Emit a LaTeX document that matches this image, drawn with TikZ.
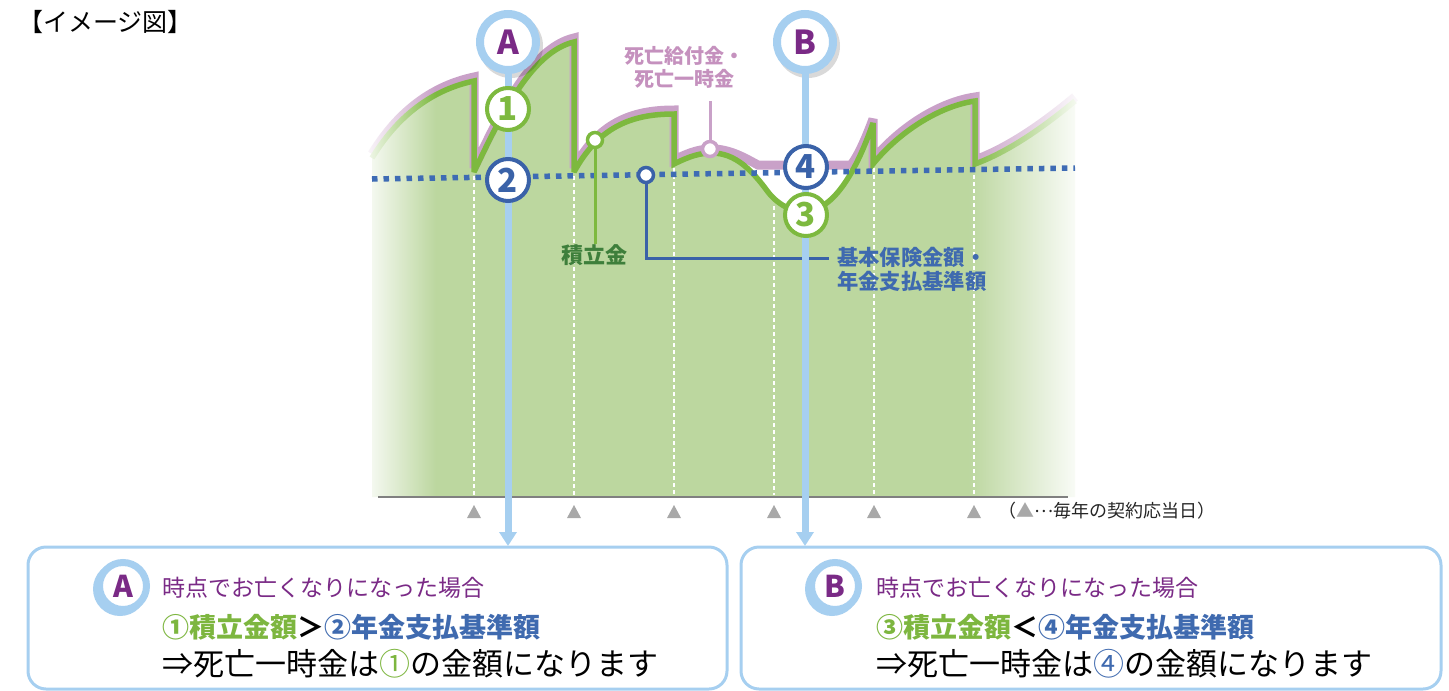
\documentclass[tikz,border=0pt]{standalone}
\usepackage{fontspec}
\setmainfont{Noto Sans CJK JP}
\usetikzlibrary{arrows.meta,fadings}
\definecolor{chartgreen}{HTML}{BCD79F}
\definecolor{linegreen}{HTML}{7DB93F}
\definecolor{pinkline}{HTML}{C9A1C8}
\definecolor{pinktext}{HTML}{C591BE}
\definecolor{dotblue}{HTML}{3E6BB4}
\definecolor{ringblue}{HTML}{3A62A8}
\definecolor{bluetext}{HTML}{3F6AAF}
\definecolor{lightblue}{HTML}{A6CFF0}
\definecolor{purpleA}{HTML}{7A2A86}
\definecolor{darkgreen}{HTML}{3E7F3B}
\definecolor{boxgreen}{HTML}{7DB63F}
\definecolor{trigray}{HTML}{A8A8A8}
\definecolor{axisgray}{HTML}{808080}
\tikzfading[name=fadeR, left color=transparent!0, right color=transparent!100]
\tikzfading[name=fadeL, left color=transparent!100, right color=transparent!0]
\def\greenpath{(372,158) .. controls (400,112) and (436,89) .. (474,81) -- (474,172) .. controls (498,122) and (530,52) .. (574,42) -- (574,172) .. controls (598,128) and (630,114) .. (674,114) -- (674,164) .. controls (690,156) and (700,153) .. (712,153) .. controls (735,153) and (752,170) .. (768,192) .. controls (780,207) and (795,213) .. (810,211) .. controls (835,206) and (856,172) .. (873,123) -- (873,164) .. controls (900,131) and (940,106) .. (975,101) -- (975,164) .. controls (1010,151) and (1045,126) .. (1075,101)}
\def\pinkpath{(372,158) .. controls (400,112) and (436,89) .. (474,81) -- (474,172) .. controls (498,122) and (530,52) .. (574,42) -- (574,172) .. controls (598,128) and (630,114) .. (674,114) -- (674,164) .. controls (690,156) and (700,153) .. (712,153) .. controls (730,153) and (745,162) .. (758,169) -- (851,169) .. controls (858,160) and (866,142) .. (873,123) -- (873,164) .. controls (900,131) and (940,106) .. (975,101) -- (975,164) .. controls (1010,151) and (1045,126) .. (1075,101)}
\tikzset{
  bigcirc/.style={circle, draw=lightblue, line width=8pt, fill=white, minimum size=56pt, inner sep=0pt, text=purpleA, font=\bfseries\fontsize{33}{33}\selectfont},
  boxcirc/.style={circle, draw=lightblue, line width=7pt, fill=white, minimum size=47pt, inner sep=0pt, text=purpleA, font=\bfseries\fontsize{30}{30}\selectfont},
  numG/.style={circle, draw=linegreen, line width=4pt, fill=white, minimum size=42pt, inner sep=0pt, text=linegreen, font=\bfseries\fontsize{33}{33}\selectfont},
  numB/.style={circle, draw=ringblue, line width=4pt, fill=white, minimum size=42pt, inner sep=0pt, text=ringblue, font=\bfseries\fontsize{33}{33}\selectfont},
  dotmark/.style={circle, line width=3.5pt, fill=white, minimum size=15pt, inner sep=0pt},
  bline/.style={lightblue, line width=7pt, -{Triangle[width=17pt,length=14pt]}},
  annot/.style={line width=3pt},
  txt/.style={inner sep=0pt, anchor=west},
  infobox/.style={draw=lightblue, line width=3pt, rounded corners=18pt, fill=white, inner sep=0pt},
}
\begin{document}
\begin{tikzpicture}[x=1pt,y=-1pt]
\useasboundingbox (0,0) rectangle (1449,691);
% title
\node[txt, font=\fontsize{25}{29}\selectfont] (title) at (18,22) {【イメージ図】};
% chart fill
\fill[chartgreen] \greenpath -- (1075,497) -- (372,497) -- cycle;
% yearly dashed lines
\foreach \xx/\yy in {474/176, 574/176, 674/168, 774/206, 874/168, 974/168}
  \draw[white, line width=1.2pt, dash pattern=on 4pt off 3pt] (\xx,\yy) -- (\xx,495);
% curves
\draw[pinkline, line width=9pt, line join=miter, miter limit=3, yshift=4pt] \pinkpath;
\draw[linegreen, line width=5.5pt, line join=miter, miter limit=3] \greenpath;
% fades
\fill[white, path fading=fadeR, fit fading=true] (360,20) rectangle (436,499);
\fill[white, path fading=fadeL, fit fading=true] (968,20) rectangle (1085,499);
% axis & triangles
\draw[axisgray, line width=1.3pt] (378,497) -- (1068,497);
\foreach \xx in {474,574,674,774,874,974}
  \fill[trigray] (\xx-7,518) -- (\xx+7,518) -- (\xx,505) -- cycle;
\node[txt, font=\fontsize{18}{22}\selectfont, text=black!85] (legend) at (998,511) {（\textcolor{trigray}{▲}\raisebox{0.3em}{…}毎年の契約応当日）};
% dotted base line
\draw[dotblue, line width=5.5pt, dash pattern=on 5.5pt off 6pt] (372,179) -- (1075,168);
% annotation markers
\node[txt, anchor=center, font=\bfseries\fontsize{22}{26}\selectfont, text=darkgreen] (lTsumi) at (594,255) {積立金};
\node[dotmark, draw=linegreen] (gdot) at (595,140) {};
\draw[annot, linegreen] (gdot) -- (gdot |- lTsumi.north);
\node[inner sep=0pt, align=center, font=\bfseries\fontsize{20}{23}\selectfont, text=pinktext] (lShibo) at (684,67) {死亡給付金・\\死亡一時金};
\node[dotmark, draw=pinkline] (pdot) at (710,149) {};
\coordinate (ptop) at (710,101);
\draw[annot, pinkline] (pdot) -- (ptop);
\node[txt, align=left, font=\bfseries\fontsize{21.3}{24}\selectfont, text=bluetext] (lKihon) at (837,269) {基本保険金額・\\年金支払基準額};
\coordinate (bend) at (829,258);
\node[dotmark, draw=ringblue] (bdot) at (646,175) {};
\draw[annot, ringblue] (bdot) |- (bend);
% A / B indicators
\fill[black, opacity=0.15] (511,46) circle (32);
\fill[black, opacity=0.15] (808,46) circle (32);
\node[bigcirc] (A) at (508,42) {A};
\node[bigcirc] (B) at (805,42) {B};
\coordinate (Aend) at (508,546);
\coordinate (Bend) at (805,546);
\draw[bline] (A) -- (Aend);
\draw[bline] (B) -- (Bend);
\node[numG] (n1) at (508,109) {1};
\node[numB] (n2) at (508,180) {2};
\node[numB] (n4) at (806,167) {4};
\node[numG] (n3) at (806,215) {3};
% boxes
\node[infobox, minimum width=699pt, minimum height=142pt] (boxA) at (377.5,618) {};
\node[infobox, minimum width=700pt, minimum height=142pt] (boxB) at (1091,618) {};
\fill[lightblue] (120,589) circle (27);
\node[boxcirc] (bA) at (123,586) {A};
\fill[lightblue] (832,589) circle (27);
\node[boxcirc] (bB) at (835,586) {B};
\node[txt, text=purpleA, font=\fontsize{23}{26}\selectfont] (tA1) at (162,588) {時点でお亡くなりになった場合};
\node[txt, font=\bfseries\fontsize{27}{30}\selectfont] (tA2) at (162,627) {\textcolor{boxgreen}{①積立金額}＞\textcolor{bluetext}{②年金支払基準額}};
\node[txt, font=\fontsize{31}{34}\selectfont] (tA3) at (162,664) {⇒死亡一時金は\textcolor{boxgreen}{①}の金額になります};
\node[txt, text=purpleA, font=\fontsize{23}{26}\selectfont] (tB1) at (876,588) {時点でお亡くなりになった場合};
\node[txt, font=\bfseries\fontsize{27}{30}\selectfont] (tB2) at (876,627) {\textcolor{boxgreen}{③積立金額}＜\textcolor{bluetext}{④年金支払基準額}};
\node[txt, font=\fontsize{31}{34}\selectfont] (tB3) at (876,664) {⇒死亡一時金は\textcolor{bluetext}{④}の金額になります};
\end{tikzpicture}
\end{document}
